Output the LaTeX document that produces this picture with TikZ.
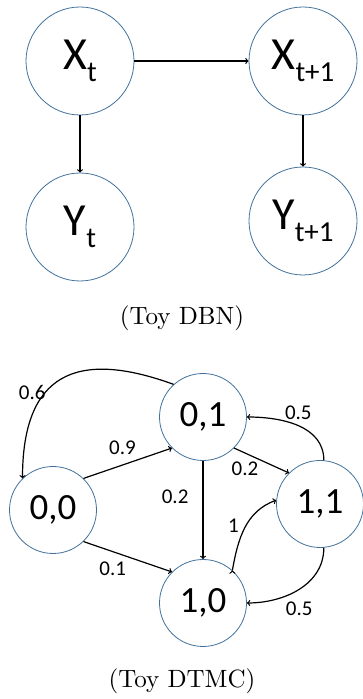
\documentclass[tikz,border=0pt]{standalone}
\usepackage{fontspec}
\newfontfamily\calibfont{Carlito}
\usepackage{tikz}
\usetikzlibrary{arrows,positioning}
\definecolor{circblue}{RGB}{65,113,156}
\newcommand{\lowsub}[1]{\raisebox{-12pt}{\fontsize{29}{29}\selectfont #1}}
\newcommand{\captext}[1]{\scalebox{2.5}{#1}}
\tikzset{
    %Define standard arrow tip
    >=to,
    %Define style for DBN variables
    bigstate/.style={
           circle,
           draw=circblue, line width=0.8pt,
           minimum size=108pt,
           inner sep=0pt,
           font=\calibfont\fontsize{46}{46}\selectfont,
           text centered},
    %Define style for DTMC states
    smallstate/.style={
           circle,
           draw=circblue, line width=0.8pt,
           minimum size=87pt,
           inner sep=0pt,
           font=\calibfont\fontsize{37}{37}\selectfont,
           text centered},
    prob/.style={
           font=\calibfont\fontsize{21}{21}\selectfont,
           inner sep=0pt},
    caption/.style={
           font=\normalsize},
    % Define arrow style
    pil/.style={
           ->,
           line width=1.2pt,
           draw=black}
}
\begin{document}
\begin{tikzpicture}[x=1pt,y=1pt]
\useasboundingbox (0,0) rectangle (363,699);
 %DBN nodes
\node[bigstate](xt) at (80,638){X\lowsub{t}};
\node[bigstate](xt1) at (303,638){X\lowsub{t+1}};
\node[bigstate](yt) at (80,472){Y\lowsub{t}};
\node[bigstate](yt1) at (303,478){Y\lowsub{t+1}};
\node[caption](dbn) at (182,381){\captext{(Toy DBN)}};
 \path[pil]
    (xt) edge (xt1)
    (xt) edge (yt)
    (xt1) edge (yt1);
 %DTMC nodes
\node[smallstate](s01) at (203,282){0,1};
\node[smallstate](s00) at (53,189){0,0};
\node[smallstate](s11) at (320,195){1,1};
\node[smallstate](s10) at (203,96){1,0};
\node[caption](dtmc) at (182,18){\captext{(Toy DTMC)}};
 \path[pil,every node/.style={prob}]
    (s01.132) edge[out=160,in=90,looseness=1.5] node[pos=0.62,left=-1pt]{0.6} (s00.134)
    (s00.46) edge node[pos=0.44,above=10pt]{0.9} (s01.225)
    (s00.-46) edge node[pos=0.33,below=10pt]{0.1} (s10.135)
    (s01) edge node[pos=0.37,left=14pt]{0.2} (s10)
    (s01.-45) edge node[pos=0.2,below=8pt]{0.2} (s11.135)
    (s11.85) edge[out=90,in=0] node[pos=0.5,above=5pt]{0.5} (s01.east)
    (s11.-85) edge[out=-90,in=0] node[pos=0.5,below=12pt]{0.5} (s10.east)
    (s10.48) edge[out=80,in=200] node[pos=0.4,above left=3pt]{1} (s11.175);
\end{tikzpicture}
\end{document}
